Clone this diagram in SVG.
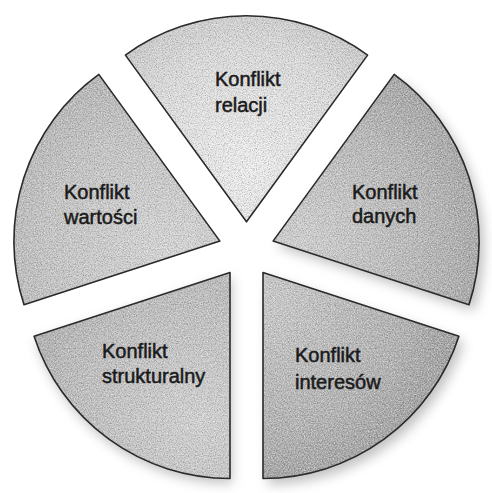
<svg xmlns="http://www.w3.org/2000/svg" width="492" height="493" viewBox="0 0 492 493">
  <style>
    .fill { filter: url(#grain); }
    .edge { fill: none; stroke: #2a2a2a; stroke-width: 1.6; stroke-linejoin: round; }
    .lbl { font-family: "Liberation Sans", Arial, sans-serif; font-size: 20px; fill: #1a1a1a; stroke: #1a1a1a; stroke-width: 0.5; }
    .shadow { fill: #777; opacity: 0.45; filter: url(#blur); }
  </style>
  <defs>
    <filter id="grain" x="-5%" y="-5%" width="110%" height="110%">
      <feTurbulence type="fractalNoise" baseFrequency="0.85" numOctaves="2" seed="7" result="n"/>
      <feColorMatrix in="n" type="matrix" values="0 0 0 0 0  0 0 0 0 0  0 0 0 0 0  1.1 0 0 0 -0.45" result="dots"/>
      <feComposite in="dots" in2="SourceAlpha" operator="in" result="d2"/>
      <feTurbulence type="fractalNoise" baseFrequency="0.7" numOctaves="1" seed="21" result="n2"/>
      <feColorMatrix in="n2" type="matrix" values="0 0 0 0 1  0 0 0 0 1  0 0 0 0 1  1.2 0 0 0 -0.5" result="wdots"/>
      <feComposite in="wdots" in2="SourceAlpha" operator="in" result="w2"/>
      <feMerge><feMergeNode in="SourceGraphic"/><feMergeNode in="w2"/><feMergeNode in="d2"/></feMerge>
    </filter>
    <filter id="blur" x="-20%" y="-20%" width="140%" height="140%">
      <feGaussianBlur stdDeviation="6"/>
    </filter>
    <radialGradient id="gTop" gradientUnits="userSpaceOnUse" cx="247" cy="170" r="200">
      <stop offset="0" stop-color="#f2f2f2"/>
      <stop offset="0.6" stop-color="#dedede"/>
      <stop offset="1" stop-color="#c2c2c2"/>
    </radialGradient>
    <radialGradient id="gRight" gradientUnits="userSpaceOnUse" cx="300" cy="240" r="210">
      <stop offset="0" stop-color="#d2d2d2"/>
      <stop offset="0.6" stop-color="#b8b8b8"/>
      <stop offset="1" stop-color="#a0a0a0"/>
    </radialGradient>
    <radialGradient id="gBR" gradientUnits="userSpaceOnUse" cx="270" cy="300" r="220">
      <stop offset="0" stop-color="#cbcbcb"/>
      <stop offset="0.6" stop-color="#b2b2b2"/>
      <stop offset="1" stop-color="#969696"/>
    </radialGradient>
    <radialGradient id="gBL" gradientUnits="userSpaceOnUse" cx="200" cy="420" r="220">
      <stop offset="0" stop-color="#d4d4d4"/>
      <stop offset="0.6" stop-color="#bebebe"/>
      <stop offset="1" stop-color="#a8a8a8"/>
    </radialGradient>
    <radialGradient id="gLeft" gradientUnits="userSpaceOnUse" cx="170" cy="250" r="210">
      <stop offset="0" stop-color="#d8d8d8"/>
      <stop offset="0.6" stop-color="#c6c6c6"/>
      <stop offset="1" stop-color="#b2b2b2"/>
    </radialGradient>
  </defs>

  <rect width="492" height="493" fill="#ffffff"/>

  <g id="shadows">
    <path class="shadow" d="M273.1,241.1 L394.2,74.4 A206,206 0 0 1 469,304.8 Z" transform="translate(5,6)"/>
    <path class="shadow" d="M263,272.5 L458.9,336.2 A206,206 0 0 1 263,478.5 Z" transform="translate(5,6)"/>
    <path class="shadow" d="M230,272.5 L230,478.5 A206,206 0 0 1 34.1,336.2 Z" transform="translate(2,5)" opacity="0.25"/>
  </g>

  <g id="slice-relacji">
    <path class="fill" fill="url(#gTop)" d="M246.5,221.8 L125.4,55.1 A206,206 0 0 1 367.6,55.1 Z"/>
    <path class="edge" d="M246.5,221.8 L125.4,55.1 A206,206 0 0 1 367.6,55.1 Z"/>
    <text class="lbl" x="215" y="86">Konflikt</text>
    <text class="lbl" x="215" y="112">relacji</text>
  </g>

  <g id="slice-danych">
    <path class="fill" fill="url(#gRight)" d="M273.1,241.1 L394.2,74.4 A206,206 0 0 1 469,304.8 Z"/>
    <path class="edge" d="M273.1,241.1 L394.2,74.4 A206,206 0 0 1 469,304.8 Z"/>
    <text class="lbl" x="352" y="199">Konflikt</text>
    <text class="lbl" x="352" y="223">danych</text>
  </g>

  <g id="slice-interesow">
    <path class="fill" fill="url(#gBR)" d="M263,272.5 L458.9,336.2 A206,206 0 0 1 263,478.5 Z"/>
    <path class="edge" d="M263,272.5 L458.9,336.2 A206,206 0 0 1 263,478.5 Z"/>
    <text class="lbl" x="295" y="362">Konflikt</text>
    <text class="lbl" x="295" y="389">interesów</text>
  </g>

  <g id="slice-strukturalny">
    <path class="fill" fill="url(#gBL)" d="M230,272.5 L230,478.5 A206,206 0 0 1 34.1,336.2 Z"/>
    <path class="edge" d="M230,272.5 L230,478.5 A206,206 0 0 1 34.1,336.2 Z"/>
    <text class="lbl" x="102" y="358">Konflikt</text>
    <text class="lbl" x="102" y="383">strukturalny</text>
  </g>

  <g id="slice-wartosci">
    <path class="fill" fill="url(#gLeft)" d="M219.9,241.1 L24,304.8 A206,206 0 0 1 98.8,74.4 Z"/>
    <path class="edge" d="M219.9,241.1 L24,304.8 A206,206 0 0 1 98.8,74.4 Z"/>
    <text class="lbl" x="64" y="199">Konflikt</text>
    <text class="lbl" x="64" y="224">wartości</text>
  </g>

  <g id="connectors"/>
</svg>
